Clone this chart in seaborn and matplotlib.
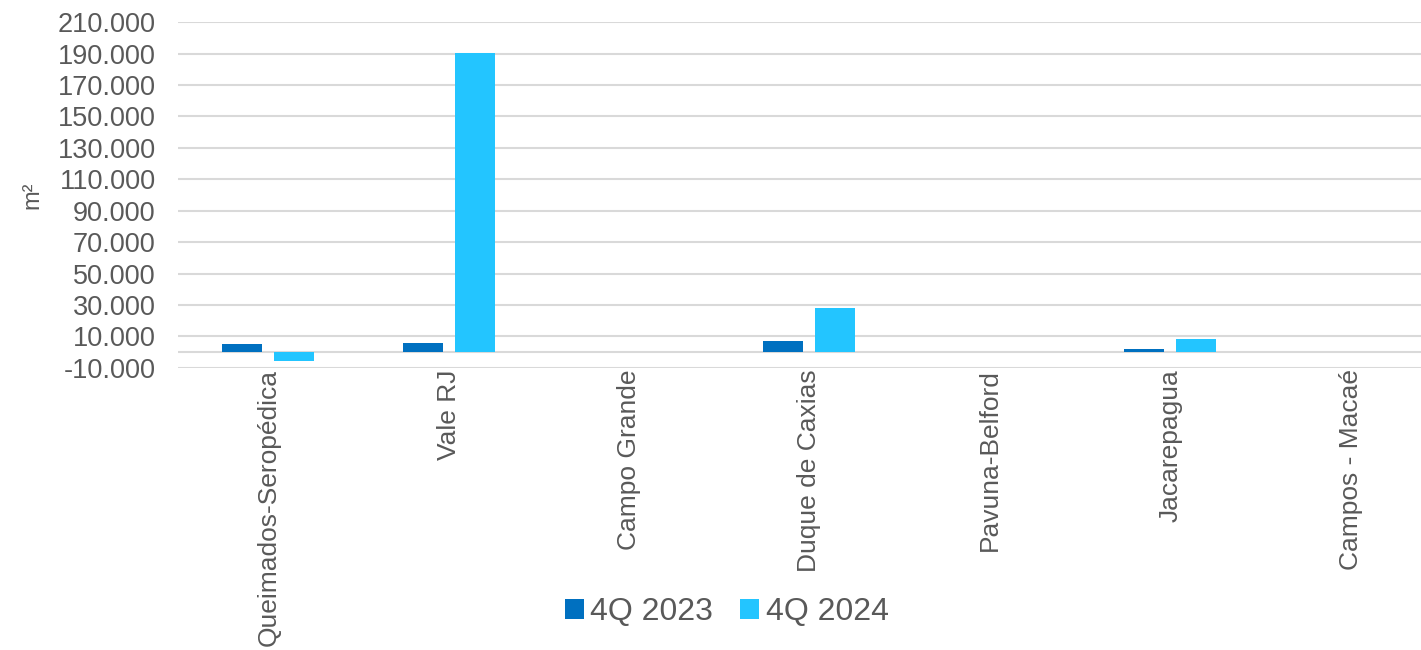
import matplotlib
matplotlib.use('Agg')
import matplotlib.pyplot as plt
import pandas as pd
import seaborn as sns
from matplotlib.ticker import FuncFormatter

# dados (m²)
regioes = ['Queimados-Seropédica', 'Vale RJ', 'Campo Grande', 'Duque de Caxias',
           'Pavuna-Belford', 'Jacarepagua', 'Campos - Macaé']
series = ['4Q 2023', '4Q 2024']
valores_2023 = [5200, 5600, 0, 7300, 0, 2300, 0]
valores_2024 = [-5600, 190500, 0, 28300, 0, 8600, 0]
cores = ['#0070C0', '#23C5FF']
yticks = list(range(-10000, 210001, 20000))

df = pd.DataFrame({
    'regiao': regioes * 2,
    'serie': [series[0]] * len(regioes) + [series[1]] * len(regioes),
    'valor': valores_2023 + valores_2024,
})

sns.set_style('white')
plt.rcParams['font.family'] = ['Liberation Sans', 'DejaVu Sans']
cinza = '#595959'

fig, ax = plt.subplots(figsize=(14.21, 6.5), dpi=100)
# a área do gráfico no original passa um pouco da borda direita
fig.subplots_adjust(left=0.1253, right=1.014, top=0.966, bottom=0.434)

sns.barplot(data=df, x='regiao', y='valor', hue='serie', palette=cores,
            width=0.576, gap=0.23, ax=ax, saturation=1, linewidth=0)

# grade e eixo
ax.set_ylim(-10000, 210000)
ax.set_yticks(yticks)
ax.yaxis.set_major_formatter(FuncFormatter(lambda v, p: f'{v:,.0f}'.replace(',', '.')))
ax.grid(axis='y', color='#d9d9d9', linewidth=1.5)
ax.set_axisbelow(True)
ax.axhline(0, color='#d9d9d9', linewidth=1.5, zorder=0)
for s in ax.spines.values():
    s.set_visible(False)
ax.set_xlim(-0.5, len(regioes) - 0.5)

ax.tick_params(axis='y', length=0, labelsize=19.5, labelcolor=cinza, pad=16)
ax.tick_params(axis='x', length=0, labelsize=19, labelcolor=cinza, pad=1)
plt.setp(ax.get_xticklabels(), rotation=90, va='top', ha='center')
ax.set_xlabel('')
ax.set_ylabel('m²', fontsize=17, color=cinza, labelpad=10)

ax.legend(loc='upper center', bbox_to_anchor=(0.4345, -0.58), ncol=2, frameon=False,
          fontsize=23, labelcolor=cinza, handlelength=0.6, handleheight=0.6,
          handletextpad=0.2, columnspacing=0.85)

fig.savefig('out.png', dpi=100)
